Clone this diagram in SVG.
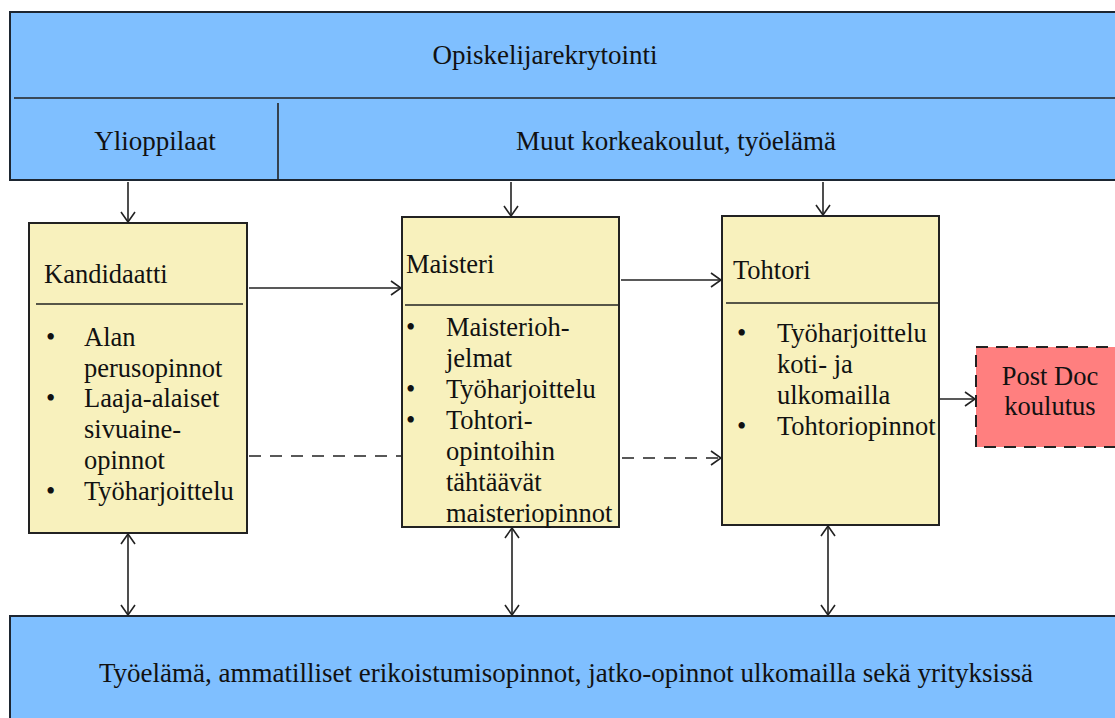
<svg xmlns="http://www.w3.org/2000/svg" width="1115" height="718" viewBox="0 0 1115 718">
<style>
text{font-family:"Liberation Serif","Times New Roman",serif;fill:#111;}
.big{font-size:27px;}
.t{font-size:26.5px;}
.blue{fill:#7FBFFF;stroke:#1d2631;stroke-width:2;}
.yel{fill:#F8F1BD;stroke:#222;stroke-width:2;}
.ln{stroke:#222;stroke-width:1.6;fill:none;}
.dash{stroke-dasharray:12 9;}
</style>
<defs>
<marker id="ah" viewBox="0 0 12 16" refX="11" refY="8" markerWidth="12" markerHeight="16" markerUnits="userSpaceOnUse" orient="auto-start-reverse">
<path d="M1,1 L11,8 L1,15" fill="none" stroke="#222" stroke-width="1.6"/>
</marker>
</defs>
<rect width="1115" height="718" fill="#fff"/>

<g id="top">
<rect class="blue" x="10" y="12" width="1120" height="168"/>
<line class="ln" x1="14" y1="98" x2="1115" y2="98" stroke-width="2"/>
<line class="ln" x1="278" y1="103" x2="278" y2="180" stroke-width="2"/>
<text class="big" x="545" y="64" text-anchor="middle">Opiskelijarekrytointi</text>
<text class="big" x="155" y="150" text-anchor="middle">Ylioppilaat</text>
<text class="big" x="676" y="150" text-anchor="middle">Muut korkeakoulut, työelämä</text>
</g>

<g id="bottom">
<rect class="blue" x="10" y="616" width="1120" height="110"/>
<text class="big" x="566" y="682" text-anchor="middle">Työelämä, ammatilliset erikoistumisopinnot, jatko-opinnot ulkomailla sekä yrityksissä</text>
</g>

<g id="kandidaatti">
<rect class="yel" x="29" y="223" width="218" height="310"/>
<line class="ln" x1="36" y1="304" x2="243" y2="304"/>
<text class="t" x="44" y="283">Kandidaatti</text>
<text class="t" x="46" y="346">•</text><text class="t" x="84" y="346">Alan</text>
<text class="t" x="84" y="377">perusopinnot</text>
<text class="t" x="46" y="407">•</text><text class="t" x="84" y="407">Laaja-alaiset</text>
<text class="t" x="84" y="438">sivuaine-</text>
<text class="t" x="84" y="469">opinnot</text>
<text class="t" x="46" y="500">•</text><text class="t" x="84" y="500">Työharjoittelu</text>
</g>

<g id="maisteri">
<rect class="yel" x="402" y="217" width="217" height="310"/>
<line class="ln" x1="405" y1="305" x2="618" y2="305"/>
<text class="t" x="406" y="273">Maisteri</text>
<text class="t" x="406" y="336">•</text><text class="t" x="446" y="336">Maisterioh-</text>
<text class="t" x="446" y="367">jelmat</text>
<text class="t" x="406" y="398">•</text><text class="t" x="446" y="398">Työharjoittelu</text>
<text class="t" x="406" y="429">•</text><text class="t" x="446" y="429">Tohtori-</text>
<text class="t" x="446" y="460">opintoihin</text>
<text class="t" x="446" y="491">tähtäävät</text>
<text class="t" x="446" y="522">maisteriopinnot</text>
</g>

<g id="tohtori">
<rect class="yel" x="722" y="216" width="217" height="309"/>
<line class="ln" x1="726" y1="303" x2="938" y2="303"/>
<text class="t" x="733" y="279">Tohtori</text>
<text class="t" x="737" y="342">•</text><text class="t" x="777" y="342">Työharjoittelu</text>
<text class="t" x="777" y="373">koti- ja</text>
<text class="t" x="777" y="404">ulkomailla</text>
<text class="t" x="737" y="435">•</text><text class="t" x="777" y="435">Tohtoriopinnot</text>
</g>

<g id="postdoc">
<rect x="976" y="347" width="150" height="100" fill="#FF7F7F" stroke="#222" stroke-width="2" stroke-dasharray="12 8"/>
<text class="t" x="1050" y="385" text-anchor="middle">Post Doc</text>
<text class="t" x="1050" y="415" text-anchor="middle">koulutus</text>
</g>

<g id="connectors">
<line class="ln" x1="128" y1="182" x2="128" y2="222" marker-end="url(#ah)"/>
<line class="ln" x1="511" y1="182" x2="511" y2="216" marker-end="url(#ah)"/>
<line class="ln" x1="823" y1="182" x2="823" y2="215" marker-end="url(#ah)"/>
<line class="ln" x1="249" y1="288" x2="401" y2="288" marker-end="url(#ah)"/>
<line class="ln dash" x1="249" y1="456" x2="401" y2="456"/>
<line class="ln" x1="621" y1="280" x2="721" y2="280" marker-end="url(#ah)"/>
<line class="ln dash" x1="622" y1="458" x2="721" y2="458" marker-end="url(#ah)"/>
<line class="ln" x1="940" y1="399" x2="975" y2="399" marker-end="url(#ah)"/>
<line class="ln" x1="128" y1="534" x2="128" y2="615" marker-start="url(#ah)" marker-end="url(#ah)"/>
<line class="ln" x1="512" y1="528" x2="512" y2="615" marker-start="url(#ah)" marker-end="url(#ah)"/>
<line class="ln" x1="828" y1="526" x2="828" y2="615" marker-start="url(#ah)" marker-end="url(#ah)"/>
</g>
</svg>
